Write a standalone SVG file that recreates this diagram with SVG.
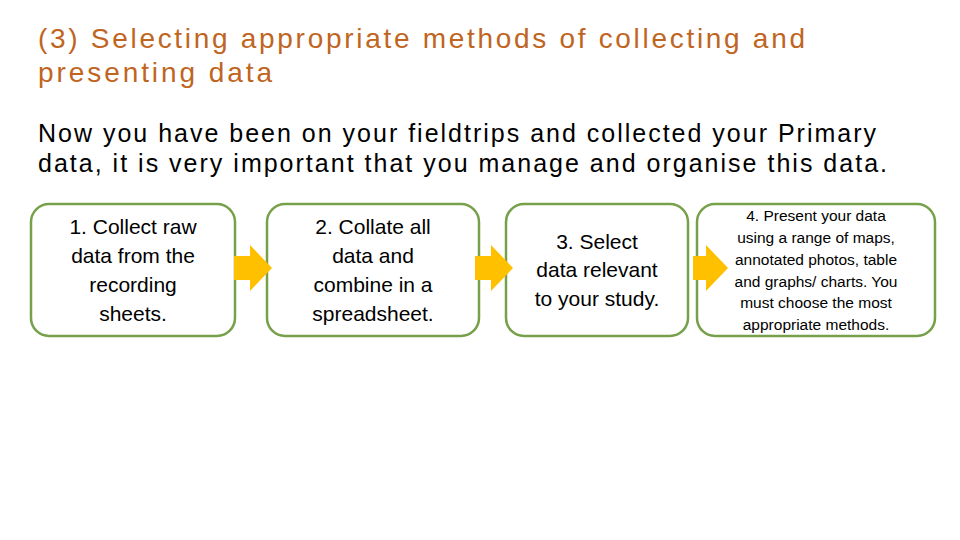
<svg xmlns="http://www.w3.org/2000/svg" width="960" height="540" viewBox="0 0 960 540">
<style>
.t{font-family:"Liberation Sans",Arial,sans-serif}
.title{fill:#C0651F;font-size:28px}
.body{fill:#000;font-size:25px}
.box{fill:#fff;stroke:#77A04A;stroke-width:2.5}
.bt{fill:#000;font-size:21px;text-anchor:middle}
.bs{fill:#000;font-size:15.5px;text-anchor:middle}
.arr{fill:#FFC000}
</style>
<rect width="960" height="540" fill="#fff"/>
<text class="t title" x="38" y="48" textLength="767" lengthAdjust="spacing">(3) Selecting appropriate methods of collecting and</text>
<text class="t title" x="38" y="82" textLength="234" lengthAdjust="spacing">presenting data</text>
<text class="t body" x="38" y="142" textLength="838" lengthAdjust="spacing">Now you have been on your fieldtrips and collected your Primary</text>
<text class="t body" x="38" y="172" textLength="849" lengthAdjust="spacing">data, it is very important that you manage and organise this data.</text>
<g id="n1"><rect class="box" x="31" y="204" width="204" height="132" rx="18"/>
<text class="t bt" x="133" y="234">1. Collect raw</text><text class="t bt" x="133" y="263">data from the</text><text class="t bt" x="133" y="292">recording</text><text class="t bt" x="133" y="321">sheets.</text></g>
<g id="n2"><rect class="box" x="267" y="204" width="212" height="132" rx="18"/>
<text class="t bt" x="373" y="234">2. Collate all</text><text class="t bt" x="373" y="263">data and</text><text class="t bt" x="373" y="292">combine in a</text><text class="t bt" x="373" y="321">spreadsheet.</text></g>
<g id="n3"><rect class="box" x="506" y="204" width="182" height="132" rx="18"/>
<text class="t bt" x="597" y="249">3. Select</text><text class="t bt" x="597" y="277">data relevant</text><text class="t bt" x="597" y="306">to your study.</text></g>
<g id="n4"><rect class="box" x="697" y="204" width="238" height="132" rx="18"/>
<text class="t bs" x="816" y="221">4. Present your data</text><text class="t bs" x="816" y="243">using a range of maps,</text><text class="t bs" x="816" y="265">annotated photos, table</text><text class="t bs" x="816" y="287">and graphs/ charts. You</text><text class="t bs" x="816" y="308">must choose the most</text><text class="t bs" x="816" y="330">appropriate methods.</text></g>
<g id="connectors">
<polygon class="arr" points="234,256 250,256 250,245 272,268 250,291 250,280 234,280"/>
<polygon class="arr" points="475,256 491,256 491,245 513,268 491,291 491,280 475,280"/>
<polygon class="arr" points="693,256 706,256 706,245 728,268 706,291 706,280 693,280"/>
</g>
</svg>
